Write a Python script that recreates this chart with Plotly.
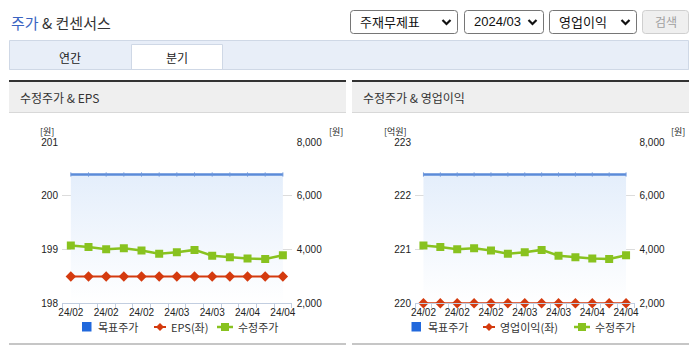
import plotly.graph_objects as go

W, H = 695, 349

# ---------------- data ----------------
x_labels = ["24/02", "24/02", "24/02", "24/02", "24/02", "24/03", "24/03",
            "24/03", "24/03", "24/03", "24/04", "24/04", "24/04"]
adj_price = [4150, 4100, 4015, 4050, 3965, 3850, 3905, 3990, 3775, 3715, 3665, 3650, 3790]
target_price = [6800] * 13
eps = [198.5] * 13
op_profit = [220] * 13

left_range_eps = [198, 201]
left_range_op = [220, 223]
right_range = [2000, 8000]

# ---------------- helpers ----------------
def X(p):
    return p / W


def Y(p):
    return 1 - p / H


shapes = []
annotations = []


def rect(x0, y0, x1, y1, fill, line=None, lw=0, layer="below"):
    shapes.append(dict(type="rect", xref="paper", yref="paper",
                       x0=X(x0), x1=X(x1), y0=Y(y1), y1=Y(y0),
                       fillcolor=fill, layer=layer,
                       line=dict(width=lw, color=line or fill)))


def seg(x0, y0, x1, y1, color, lw=1, layer="below"):
    shapes.append(dict(type="line", xref="paper", yref="paper",
                       x0=X(x0), x1=X(x1), y0=Y(y0), y1=Y(y1), layer=layer,
                       line=dict(width=lw, color=color)))


def path(pts, color=None, fill=None, lw=1, closed=False, layer="above"):
    d = "M " + " L ".join(f"{X(a):.5f},{Y(b):.5f}" for a, b in pts)
    if closed:
        d += " Z"
    shapes.append(dict(type="path", xref="paper", yref="paper", path=d,
                       fillcolor=fill or "rgba(0,0,0,0)", layer=layer,
                       line=dict(width=lw, color=color or "rgba(0,0,0,0)")))


def rrect(x0, y0, x1, y1, r, fill, line, lw=1):
    d = (f"M {X(x0+r)},{Y(y0)} L {X(x1-r)},{Y(y0)} Q {X(x1)},{Y(y0)} {X(x1)},{Y(y0+r)} "
         f"L {X(x1)},{Y(y1-r)} Q {X(x1)},{Y(y1)} {X(x1-r)},{Y(y1)} "
         f"L {X(x0+r)},{Y(y1)} Q {X(x0)},{Y(y1)} {X(x0)},{Y(y1-r)} "
         f"L {X(x0)},{Y(y0+r)} Q {X(x0)},{Y(y0)} {X(x0+r)},{Y(y0)} Z")
    shapes.append(dict(type="path", xref="paper", yref="paper", path=d,
                       fillcolor=fill, layer="below", line=dict(width=lw, color=line)))


def text(x, y, s, size=12, color="#333333", xanchor="left", family="Noto Sans CJK KR"):
    annotations.append(dict(x=X(x), y=Y(y), xref="paper", yref="paper", text=s,
                            showarrow=False, xanchor=xanchor, yanchor="middle",
                            font=dict(size=size, color=color, family=family),
                            borderpad=0))


FONT_NUM = "Liberation Sans Narrow, Liberation Sans, Arial, sans-serif"

# ---------------- page chrome ----------------
text(10, 23, "<span style='color:#3a64c2'>주가</span> & 컨센서스", size=15, color="#333333")

# dropdowns
for (x0, x1, label, fam) in [(350.5, 457.5, "주재무제표", "Noto Sans CJK KR"),
                             (464.5, 543.5, "2024/03", FONT_NUM),
                             (549.5, 636.5, "영업이익", "Noto Sans CJK KR")]:
    rrect(x0, 10.5, x1, 33.5, 3, "#ffffff", "#767676", 1)
    text(x0 + 8, 22, label, size=13, color="#111111", family=fam)
    cx = x1 - 11
    path([(cx - 4, 20), (cx, 24), (cx + 4, 20)], color="#111111", lw=2.2)
rrect(642.5, 10.5, 688.5, 33.5, 3, "#efefef", "#cfcfcf", 1)
text(665.5, 22, "검색", size=12, color="#a0a0a0", xanchor="center")

# tab bar
rect(9.5, 40.5, 688.5, 69.5, "#e8eef8", "#cfd8e6", 1)
rect(131.5, 44.5, 222.5, 69.5, "#ffffff", "#cfd8e6", 1)
seg(9.5, 69.5, 688.5, 69.5, "#cfd8e6", 1)
text(70, 57, "연간", size=12, color="#222222", xanchor="center")
text(176.5, 57, "분기", size=12, color="#222222", xanchor="center")

# panels
for (a, b, title) in [(9, 346, "수정주가 & EPS"), (352, 689, "수정주가 & 영업이익")]:
    rect(a, 80, b, 82, "#333333")
    rect(a, 82, b, 112, "#efefef")
    rect(a, 112, b, 113, "#d8d8d8")
    rect(a, 343, b, 345, "#c6c6c6")
    text(a + 10, 97, title, size=12, color="#333333")

# unit labels
text(47, 131, "[원]", size=9, color="#222222", xanchor="center")
text(335.5, 131, "[원]", size=9, color="#222222", xanchor="center")
text(395.5, 131, "[억원]", size=9, color="#222222", xanchor="center")
text(677.5, 131, "[원]", size=9, color="#222222", xanchor="center")

# ---------------- legends (manual) ----------------
BLUE_SQ = "#2168dc"
RED = "#d43a0e"
GREEN = "#88c21f"
TARGET = "#5b8bd8"


def legend(x_sq, x_red, label_red, x_green, cy=327):
    rect(x_sq, cy - 5, x_sq + 9.5, cy + 4.5, BLUE_SQ, layer="above")
    text(x_sq + 15, cy, "목표주가", size=11, color="#333333")
    seg(x_red, cy, x_red + 12, cy, RED, 2, layer="above")
    c = x_red + 6
    path([(c - 4, cy), (c, cy - 4), (c + 4, cy), (c, cy + 4)], fill=RED, closed=True)
    text(x_red + 16, cy, label_red, size=11, color="#333333")
    seg(x_green, cy, x_green + 16, cy, GREEN, 2.5, layer="above")
    g = x_green + 8
    rect(g - 4, cy - 4, g + 4, cy + 4, GREEN, layer="above")
    text(x_green + 20, cy, "수정주가", size=11, color="#333333")


legend(82, 154, "EPS(좌)", 217)
legend(411.5, 483, "영업이익(좌)", 574)

# ---------------- traces ----------------
xi = list(range(len(x_labels)))
fig = go.Figure()


def panel_traces(xa, ya_right, ya_left, left_vals):
    fig.add_trace(go.Scatter(
        x=xi, y=target_price, xaxis=xa, yaxis=ya_right, mode="lines+markers",
        line=dict(color=TARGET, width=2.5),
        marker=dict(symbol="line-ns", size=3, line=dict(color="#6f98dc", width=1)),
        fill="tozeroy",
        fillgradient=dict(type="vertical", start=right_range[0], stop=target_price[0],
                          colorscale=[[0, "#ffffff"], [1, "#e4eefb"]]),
        showlegend=False, hoverinfo="skip"))
    fig.add_trace(go.Scatter(
        x=xi, y=adj_price, xaxis=xa, yaxis=ya_right, mode="lines+markers",
        line=dict(color=GREEN, width=2.5),
        marker=dict(symbol="square", size=8, color=GREEN),
        showlegend=False))
    fig.add_trace(go.Scatter(
        x=xi, y=left_vals, xaxis=xa, yaxis=ya_left, mode="lines+markers",
        line=dict(color=RED, width=2),
        marker=dict(symbol="diamond", size=8, color=RED),
        cliponaxis=False, showlegend=False))


panel_traces("x", "y", "y2", eps)
panel_traces("x2", "y3", "y4", op_profit)

# ---------------- axes ----------------
y_dom = [Y(303.3), Y(142.3)]
tickvals = xi[::2]
ticktext = x_labels[::2]


def xaxis(dom, anchor):
    return dict(domain=dom, anchor=anchor, range=[-0.5, len(xi) - 0.5],
                tickvals=tickvals, ticktext=ticktext, ticks="",
                showgrid=False, zeroline=False, showline=True,
                linecolor="#c2cee0", linewidth=1,
                minor=dict(ticks="outside", tick0=-0.5, dtick=1, ticklen=4,
                           tickcolor="#c2cee0", tickwidth=1, showgrid=False),
                tickfont=dict(size=10, color="#222222", family=FONT_NUM),
                automargin=False, fixedrange=True)


def yright(anchor):
    return dict(domain=y_dom, anchor=anchor, side="right", range=right_range,
                dtick=2000, tick0=0, tickformat=",", ticks="",
                ticklabelstandoff=4,
                showgrid=True, gridcolor="#dcdcdc", gridwidth=1,
                zeroline=False, showline=False,
                tickfont=dict(size=10, color="#222222", family=FONT_NUM),
                automargin=False, fixedrange=True)


def yleft(overlay, anchor, rng):
    return dict(overlaying=overlay, anchor=anchor, side="left", range=rng,
                dtick=1, tick0=rng[0], ticks="", ticklabelstandoff=3,
                showgrid=False, zeroline=False, showline=False,
                tickfont=dict(size=10, color="#222222", family=FONT_NUM),
                automargin=False, fixedrange=True)


fig.update_layout(
    template="none",
    width=W, height=H,
    margin=dict(l=0, r=0, t=0, b=0, pad=0),
    paper_bgcolor="#ffffff", plot_bgcolor="rgba(0,0,0,0)",
    showlegend=False,
    xaxis=xaxis([X(62), X(291.7)], "y"),
    yaxis=yright("x"),
    yaxis2=yleft("y", "x", left_range_eps),
    xaxis2=xaxis([X(415), X(634.5)], "y3"),
    yaxis3=yright("x2"),
    yaxis4=yleft("y3", "x2", left_range_op),
    shapes=shapes,
    annotations=annotations,
    font=dict(family="Noto Sans CJK KR, sans-serif", color="#333333"),
)

fig.write_html("out.html", config={"displayModeBar": False})
